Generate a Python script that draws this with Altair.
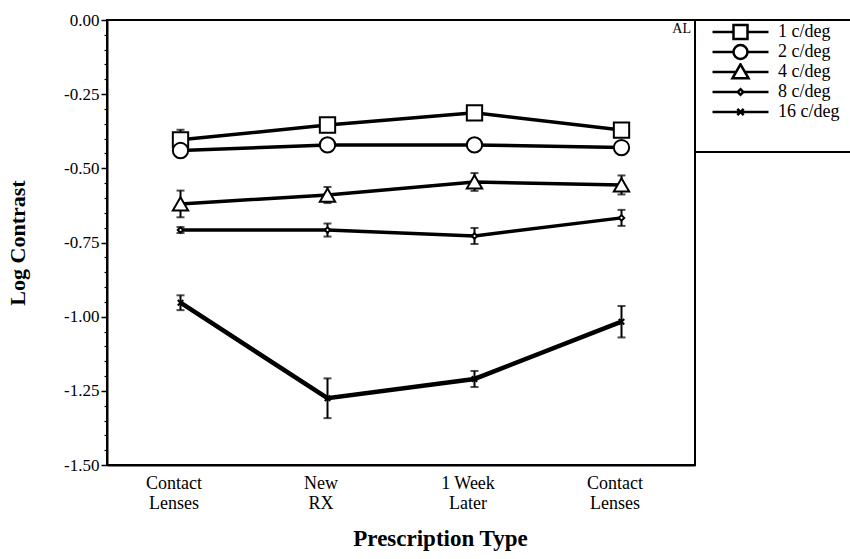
import json
import altair as alt
import pandas as pd

# ---- data ----
stages = ["Contact\nLenses", "New\nRX", "1 Week\nLater", "Contact\nLenses"]
series = ["1 c/deg", "2 c/deg", "4 c/deg", "8 c/deg", "16 c/deg"]

mean_1 = [-0.404, -0.354, -0.313, -0.371]
mean_2 = [-0.440, -0.421, -0.421, -0.430]
mean_4 = [-0.620, -0.590, -0.546, -0.556]
mean_8 = [-0.708, -0.708, -0.728, -0.667]
mean_16 = [-0.953, -1.275, -1.210, -1.017]

err_1 = [0.034, 0.010, 0.010, 0.010]
err_2 = [0.010, 0.010, 0.010, 0.010]
err_4 = [0.045, 0.027, 0.030, 0.032]
err_8 = [0.010, 0.022, 0.027, 0.027]
err_16 = [0.025, 0.067, 0.027, 0.053]

means = [mean_1, mean_2, mean_4, mean_8, mean_16]
errs = [err_1, err_2, err_4, err_8, err_16]

rows = []
for s, m, e in zip(series, means, errs):
    for i, (mv, ev) in enumerate(zip(m, e)):
        rows.append({"series": s, "stage": i, "y": mv, "lo": mv - ev, "hi": mv + ev})
df = pd.DataFrame(rows)

FONT = "Liberation Serif"
W, H = 588, 445

x_label_expr = json.dumps([s.split("\n") for s in stages]) + "[datum.value]"
major_ticks = [round(-0.25 * k, 2) for k in range(0, 7)]
minor_ticks = [round(-0.05 * k, 2) for k in range(0, 31) if k % 5 != 0]
y_label_expr = "(datum.value < -0.000001 ? '-' : '') + format(abs(datum.value), '.2f')"

x_enc = alt.X(
    "stage:O",
    scale=alt.Scale(type="point", padding=0.5),
    axis=alt.Axis(
        title="Prescription Type",
        labelExpr=x_label_expr,
        labelAngle=0,
        ticks=False,
        labelPadding=9,
        labelOffset=-7,
        labelFont=FONT,
        labelFontSize=18,
        labelLineHeight=20,
        labelColor="black",
        titleFont=FONT,
        titleFontSize=23,
        titleFontWeight="bold",
        titleColor="black",
        titlePadding=15,
        titleX=333,
        domainColor="black",
        domainWidth=2,
    ),
)

y_scale = alt.Scale(domain=[-1.5, 0], nice=False, zero=False)
y_axis_major = alt.Axis(
    title="Log Contrast",
    orient="left",
    values=major_ticks,
    labelExpr=y_label_expr,
    labelOverlap=False,
    tickSize=6,
    tickColor="black",
    tickWidth=1.5,
    labelPadding=2,
    labelFont=FONT,
    labelFontSize=17,
    labelColor="black",
    titleFont=FONT,
    titleFontSize=22,
    titleFontWeight="bold",
    titleColor="black",
    titlePadding=34,
    domainColor="black",
    domainWidth=2,
    grid=False,
)
y_axis_minor = alt.Axis(
    title=None,
    orient="left",
    values=minor_ticks,
    labels=False,
    tickSize=3,
    tickColor="black",
    tickWidth=1.2,
    domain=False,
    grid=False,
)

base = alt.Chart(df)

err_rule = base.mark_rule(color="black", strokeWidth=2).encode(
    x=x_enc, y=alt.Y("lo:Q", scale=y_scale, axis=y_axis_major), y2="hi:Q"
)
cap_lo = base.mark_tick(color="black", size=8, thickness=2).encode(
    x="stage:O", y=alt.Y("lo:Q", axis=None)
)
cap_hi = base.mark_tick(color="black", size=8, thickness=2).encode(
    x="stage:O", y=alt.Y("hi:Q", axis=None)
)

lines_thin = base.transform_filter(
    alt.FieldOneOfPredicate(field="series", oneOf=series[:4])
).mark_line(color="black", strokeWidth=3.5).encode(
    x="stage:O", y=alt.Y("y:Q", axis=y_axis_minor), detail="series:N"
)
lines_thick = base.transform_filter(
    alt.FieldEqualPredicate(field="series", equal=series[4])
).mark_line(color="black", strokeWidth=4.5).encode(
    x="stage:O", y=alt.Y("y:Q", axis=None), detail="series:N"
)

shape_scale = alt.Scale(
    domain=series,
    range=["square", "circle", "triangle-up", "diamond", "M-1,-1L1,1M-1,1L1,-1"],
)

points_big = base.transform_filter(
    alt.FieldOneOfPredicate(field="series", oneOf=series[:3])
).mark_point(
    filled=True, fill="white", stroke="black", strokeWidth=2, opacity=1, size=235
).encode(
    x="stage:O",
    y=alt.Y("y:Q", axis=None),
    shape=alt.Shape("series:N", scale=shape_scale, legend=None),
)
points_small = base.transform_filter(
    alt.FieldOneOfPredicate(field="series", oneOf=series[3:])
).mark_point(
    filled=True, fill="white", stroke="black", strokeWidth=2, opacity=1, size=30
).encode(
    x="stage:O",
    y=alt.Y("y:Q", axis=None),
    shape=alt.Shape("series:N", scale=shape_scale, legend=None),
)

legend_paths = [
    "M-4,0H-1M1,0H4M-1,-1H1V1H-1Z",
    "M-4,0H-1M1,0H4M1,0A1,1 0 1,1 -1,0A1,1 0 1,1 1,0Z",
    "M-4,0H-0.63M0.63,0H4M0,-1.1L1.15,0.9H-1.15Z",
    "M-4,0H-0.4M0.4,0H4M0,-0.4L0.4,0L0,0.4L-0.4,0Z",
    "M-4,0H4M-0.45,-0.45L0.45,0.45M-0.45,0.45L0.45,-0.45",
]

legend_layer = base.transform_filter("false").mark_point(
    filled=False, color="black", strokeWidth=2.5, opacity=1
).encode(
    shape=alt.Shape(
        "series:N",
        scale=alt.Scale(domain=series, range=legend_paths),
        legend=alt.Legend(
            title=None,
            orient="none",
            legendX=604.5,
            legendY=3,
            padding=0,
            symbolSize=196,
            symbolOffset=20,
            symbolStrokeWidth=2.5,
            symbolStrokeColor="black",
            symbolFillColor="white",
            labelOffset=28.5,
            labelFont=FONT,
            labelFontSize=18,
            labelColor="black",
            clipHeight=18,
            rowPadding=2,
        ),
    )
)

box = alt.Chart(alt.Data(values=[{}])).mark_rect(
    fill="white", fillOpacity=0, stroke="black", strokeWidth=2
).encode(x=alt.value(W), x2=alt.value(W + 200), y=alt.value(0), y2=alt.value(132))

al_text = alt.Chart(alt.Data(values=[{}])).mark_text(
    text="AL", align="right", baseline="top", font=FONT, fontSize=14, color="black"
).encode(x=alt.value(W - 4), y=alt.value(2))

chart = (
    alt.layer(
        err_rule, cap_lo, cap_hi, lines_thin, lines_thick, points_big, points_small,
        legend_layer, box, al_text,
    )
    .resolve_scale(shape="independent")
    .resolve_axis(y="independent")
    .properties(
        width=W,
        height=H,
        padding={"left": 107, "top": 20, "right": 155, "bottom": 94},
        autosize="none",
        background="white",
    )
    .configure_view(stroke="black", strokeWidth=2)
)

chart.save("out.html", embed_options={"renderer": "svg", "actions": False})
